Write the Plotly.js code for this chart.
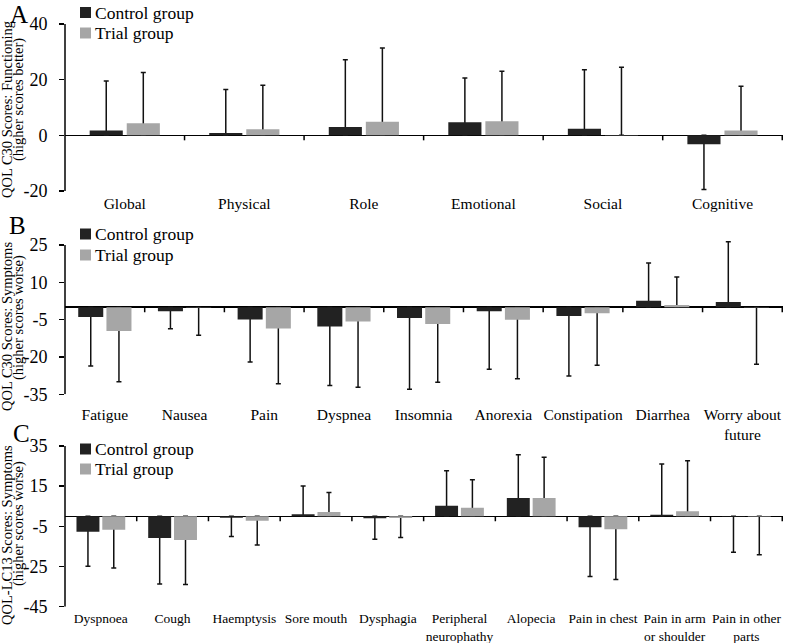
<!DOCTYPE html>
<html>
<head>
<meta charset="utf-8">
<script src="https://cdn.plot.ly/plotly-3.0.1.min.js"></script>
<style>html,body{margin:0;padding:0;background:#fff;}#chart{width:787px;height:643px;}</style>
</head>
<body>
<div id="chart"></div>
<script>
// ---------- Data ----------
const catsA = ['Global', 'Physical', 'Role', 'Emotional', 'Social', 'Cognitive'];
const ctrlA = [1.7, 0.8, 3.0, 4.7, 2.4, -3.2];
const ctrlErrA = [17.8, 15.7, 24.2, 15.9, 21.2, 16.3];
const trialA = [4.3, 2.2, 4.9, 5.1, 0.1, 1.7];
const trialErrA = [18.3, 15.8, 26.5, 17.9, 24.4, 15.9];
const tickValsA = [-20, 0, 20, 40];
const tickTextA = ['-20', '0', '20', '40'];

const catsB = ['Fatigue', 'Nausea', 'Pain', 'Dyspnea', 'Insomnia', 'Anorexia', 'Constipation', 'Diarrhea', 'Worry about<br>future'];
const ctrlB = [-3.9, -1.6, -4.9, -7.8, -4.3, -1.6, -3.5, 2.6, 2.1];
const ctrlErrB = [19.7, 7.1, 17.1, 23.7, 28.7, 23.3, 24.1, 15.2, 24.2];
const trialB = [-9.6, -0.1, -8.6, -5.7, -6.7, -5.0, -2.4, 0.9, -0.1];
const trialErrB = [20.4, 11.2, 22.2, 26.5, 23.5, 23.7, 20.9, 11.2, 22.8];
const tickValsB = [-35, -20, -5, 10, 25];
const tickTextB = ['-35', '-20', '-5', '10', '25'];

const catsC = ['Dyspnoea', 'Cough', 'Haemptysis', 'Sore mouth', 'Dysphagia', 'Peripheral<br>neurophathy', 'Alopecia', 'Pain in chest', 'Pain in arm<br>or shoulder', 'Pain in other<br>parts'];
const ctrlC = [-7.7, -10.8, -0.7, 1.0, -1.0, 5.3, 9.1, -5.5, 0.8, -0.2];
const ctrlErrC = [17.2, 22.9, 9.4, 14.1, 10.4, 17.4, 21.5, 24.5, 25.2, 17.7];
const trialC = [-6.7, -11.8, -2.2, 2.1, -0.8, 4.3, 9.1, -6.5, 2.5, -0.2];
const trialErrC = [19.0, 22.2, 12.1, 9.8, 9.8, 13.9, 20.3, 25.0, 25.2, 18.9];
const tickValsC = [-45, -25, -5, 15, 35];
const tickTextC = ['-45', '-25', '-5', '15', '35'];

const seriesNames = ['Control group', 'Trial group'];

// ---------- Style ----------
const W = 787, H = 643;
const FONT = 'Liberation Serif';
const CTRL_COLOR = '#222222';
const TRIAL_COLOR = '#a6a6a6';
const px = v => v / W;
const py = v => 1 - v / H;

const panels = [
  {cats: catsA, ctrl: ctrlA, ctrlErr: ctrlErrA, trial: trialA, trialErr: trialErrA,
   tickVals: tickValsA, tickText: tickTextA,
   top: 24, bottom: 191, padTop: 0, barW: 0.277, gap: 0.033, catFont: 15.5, standoff: 1,
   letter: 'A', letterPos: [19, 15], title1: 'QOL C30 Scores: Functioning', title2: '(higher scores better)',
   t1y: 110, t2y: 100, legRows: [12.5, 33]},
  {cats: catsB, ctrl: ctrlB, ctrlErr: ctrlErrB, trial: trialB, trialErr: trialErrB,
   tickVals: tickValsB, tickText: tickTextB,
   top: 245, bottom: 394.3, padTop: 3, barW: 0.314, gap: 0.04, catFont: 15.5, standoff: 9,
   letter: 'B', letterPos: [17, 226], title1: 'QOL C30 Scores: Symptoms', title2: '(higher scores worse)',
   t1y: 327, t2y: 318, legRows: [234, 255]},
  {cats: catsC, ctrl: ctrlC, ctrlErr: ctrlErrC, trial: trialC, trialErr: trialErrC,
   tickVals: tickValsC, tickText: tickTextC,
   top: 446, bottom: 606.7, padTop: 0, barW: 0.32, gap: 0.04, catFont: 13.5, standoff: 2,
   letter: 'C', letterPos: [21, 433], title1: 'QOL-LC13 Scores: Symptoms', title2: '(higher scores worse)',
   t1y: 535, t2y: 524, legRows: [449, 469]}
];

const traces = [];
const layout = {
  width: W, height: H,
  margin: {l: 0, r: 0, t: 0, b: 0},
  paper_bgcolor: '#fff', plot_bgcolor: 'rgba(0,0,0,0)',
  barmode: 'overlay', showlegend: false,
  font: {family: FONT, color: '#000'},
  shapes: [], annotations: []
};

function errArrays(vals, errs) {
  const up = [], down = [];
  vals.forEach((v, i) => {
    if (v >= 0) { up.push(errs[i]); down.push(v); }
    else { up.push(-v); down.push(errs[i]); }
  });
  return {up, down};
}

panels.forEach((p, k) => {
  const n = k === 0 ? '' : String(k + 1);
  const xa = 'x' + n, ya = 'y' + n;
  const yMin = p.tickVals[0], yMax = p.tickVals[p.tickVals.length - 1];
  const pxPerUnit = (p.bottom - p.top) / (yMax - yMin);
  const groups = [
    {vals: p.ctrl, errs: p.ctrlErr, color: CTRL_COLOR, offset: -(p.barW + p.gap / 2), name: seriesNames[0]},
    {vals: p.trial, errs: p.trialErr, color: TRIAL_COLOR, offset: p.gap / 2, name: seriesNames[1]}
  ];
  // error-bar carriers (stems start at zero, hidden beneath the bars)
  groups.forEach(g => {
    const e = errArrays(g.vals, g.errs);
    traces.push({
      type: 'bar', x: p.cats, y: g.vals, xaxis: xa, yaxis: ya,
      width: p.barW, offset: g.offset,
      marker: {color: 'rgba(0,0,0,0)'}, showlegend: false, hoverinfo: 'skip',
      error_y: {type: 'data', symmetric: false, array: e.up, arrayminus: e.down,
                color: '#111', thickness: 1.5, width: 2.5}
    });
  });
  // visible bars
  groups.forEach(g => {
    traces.push({
      type: 'bar', x: p.cats, y: g.vals, xaxis: xa, yaxis: ya, name: g.name,
      width: p.barW, offset: g.offset,
      marker: {color: g.color, line: {width: 0}}
    });
  });

  layout['xaxis' + n] = {
    domain: [px(65), px(783)], anchor: ya, type: 'category',
    showline: false, showgrid: false, zeroline: false, ticks: '',
    tickfont: {size: p.catFont, family: FONT, color: '#000'},
    ticklabelstandoff: p.standoff, fixedrange: true
  };
  layout['yaxis' + n] = {
    domain: [py(p.bottom), py(p.top - p.padTop * pxPerUnit)], anchor: xa,
    range: [yMin, yMax + p.padTop],
    tickmode: 'array', tickvals: p.tickVals, ticktext: p.tickText,
    showline: false,
    ticks: 'outside', ticklen: 5, tickwidth: 1.5, tickcolor: '#000',
    showgrid: false, zeroline: true, zerolinecolor: '#000', zerolinewidth: 1.5,
    tickfont: {size: 18, family: FONT, color: '#000'}, ticklabelstandoff: 8,
    fixedrange: true
  };
  // y axis line (from lowest to highest tick)
  layout.shapes.push({
    type: 'line', xref: xa + ' domain', yref: ya, x0: 0, x1: 0, y0: yMin, y1: yMax,
    line: {color: '#000', width: 1.5}
  });
  // category boundary ticks on the zero line
  p.cats.forEach((c, i) => {
    layout.shapes.push({
      type: 'line', xref: xa, yref: ya, x0: i + 0.5, x1: i + 0.5,
      ysizemode: 'pixel', yanchor: 0, y0: 0, y1: -5,
      line: {color: '#000', width: 1.5}
    });
  });
  // legend (swatch + label per series)
  groups.forEach((g, j) => {
    const cy = p.legRows[j];
    layout.shapes.push({
      type: 'rect', xref: 'paper', yref: 'paper',
      x0: px(80), x1: px(91), y0: py(cy + 5.5), y1: py(cy - 5.5),
      fillcolor: g.color, line: {width: 0}
    });
    layout.annotations.push({
      xref: 'paper', yref: 'paper', x: px(93), y: py(cy),
      text: g.name, showarrow: false, xanchor: 'left', yanchor: 'middle',
      font: {size: 17.5, family: FONT, color: '#000'}
    });
  });
  // panel letter
  layout.annotations.push({
    xref: 'paper', yref: 'paper', x: px(p.letterPos[0]), y: py(p.letterPos[1]),
    text: p.letter, showarrow: false, font: {size: 25, family: FONT, color: '#000'},
    xanchor: 'center', yanchor: 'middle'
  });
  // y-axis titles (two lines)
  layout.annotations.push({
    xref: 'paper', yref: 'paper', x: px(7), y: py(p.t1y), textangle: -90,
    text: p.title1, showarrow: false, font: {size: 14.5, family: FONT, color: '#000'},
    xanchor: 'center', yanchor: 'middle'
  });
  layout.annotations.push({
    xref: 'paper', yref: 'paper', x: px(18), y: py(p.t2y), textangle: -90,
    text: p.title2, showarrow: false, font: {size: 14.5, family: FONT, color: '#000'},
    xanchor: 'center', yanchor: 'middle'
  });
});

Plotly.newPlot('chart', traces, layout, {displayModeBar: false, staticPlot: true});
</script>
</body>
</html>
